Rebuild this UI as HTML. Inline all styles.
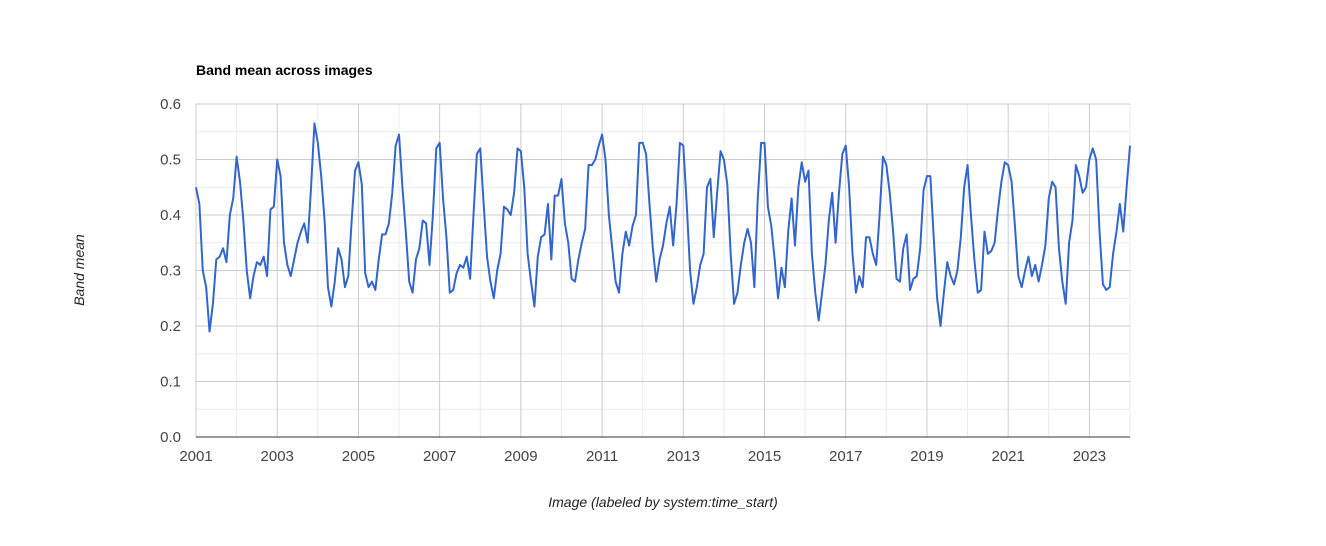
<!DOCTYPE html>
<html><head><meta charset="utf-8"><style>
body{margin:0;background:#fff;font-family:"Liberation Sans",Arial,sans-serif}
</style></head><body>
<svg id="chart" width="1326" height="541" xmlns="http://www.w3.org/2000/svg">
<text x="196" y="75" font-size="14" font-weight="bold" fill="#000">Band mean across images</text>
<g id="grid"></g>
<g id="yticks"></g>
<g id="xticks"></g>
<text transform="translate(84,270) rotate(-90)" text-anchor="middle" font-size="14" font-style="italic" fill="#222">Band mean</text>
<text x="663" y="507" text-anchor="middle" font-size="14" font-style="italic" fill="#222">Image (labeled by system:time_start)</text>
<path id="series" fill="none" stroke="#3366cc" stroke-width="2" stroke-linejoin="round"/>
</svg>
<script>
const startYear = 2001;
const yTickValues = [0,0.1,0.2,0.3,0.4,0.5,0.6];
const yTickLabels = ["0.0","0.1","0.2","0.3","0.4","0.5","0.6"];
const xTickYears = [2001,2003,2005,2007,2009,2011,2013,2015,2017,2019,2021,2023];
const bandMean = [
0.45,0.42,0.30,0.27,0.19,0.24,0.32,0.325,0.34,0.315,0.40,0.43,
0.505,0.46,0.39,0.30,0.25,0.29,0.315,0.31,0.325,0.29,0.41,0.415,
0.50,0.47,0.35,0.31,0.29,0.32,0.35,0.37,0.385,0.35,0.45,0.565,
0.53,0.47,0.39,0.27,0.235,0.28,0.34,0.32,0.27,0.29,0.39,0.48,
0.495,0.455,0.295,0.27,0.28,0.265,0.32,0.365,0.365,0.385,0.44,0.525,
0.545,0.45,0.37,0.28,0.26,0.32,0.34,0.39,0.385,0.31,0.40,0.52,
0.53,0.43,0.36,0.26,0.265,0.295,0.31,0.305,0.325,0.285,0.40,0.51,
0.52,0.42,0.325,0.28,0.25,0.30,0.33,0.415,0.41,0.40,0.44,0.52,
0.515,0.45,0.33,0.28,0.235,0.325,0.36,0.365,0.42,0.32,0.435,0.435,
0.465,0.385,0.35,0.285,0.28,0.32,0.35,0.375,0.49,0.49,0.50,0.525,
0.545,0.50,0.40,0.34,0.28,0.26,0.33,0.37,0.345,0.38,0.40,0.53,
0.53,0.51,0.42,0.34,0.28,0.32,0.345,0.385,0.415,0.345,0.42,0.53,
0.525,0.42,0.30,0.24,0.27,0.31,0.33,0.45,0.465,0.36,0.44,0.515,
0.50,0.455,0.33,0.24,0.26,0.31,0.35,0.375,0.35,0.27,0.43,0.53,
0.53,0.415,0.38,0.32,0.25,0.305,0.27,0.37,0.43,0.345,0.45,0.495,
0.46,0.48,0.33,0.26,0.21,0.26,0.31,0.39,0.44,0.35,0.44,0.51,
0.525,0.45,0.33,0.26,0.29,0.27,0.36,0.36,0.33,0.31,0.40,0.505,
0.49,0.44,0.37,0.285,0.28,0.34,0.365,0.265,0.285,0.29,0.34,0.445,
0.47,0.47,0.36,0.25,0.20,0.26,0.315,0.29,0.275,0.30,0.36,0.45,
0.49,0.40,0.32,0.26,0.265,0.37,0.33,0.335,0.35,0.41,0.46,0.495,
0.49,0.46,0.38,0.29,0.27,0.30,0.325,0.29,0.31,0.28,0.31,0.345,
0.43,0.46,0.45,0.34,0.28,0.24,0.35,0.39,0.49,0.47,0.44,0.45,
0.50,0.52,0.50,0.37,0.275,0.265,0.27,0.33,0.37,0.42,0.37,0.45,
0.525];

const X0=196, X1=1130, Y0=437, Y1=104;
const xMin=2001, xMax=2024, yMin=0, yMax=0.6;
const xs = t => X0 + (t - xMin) / (xMax - xMin) * (X1 - X0);
const ys = v => Y0 - (v - yMin) / (yMax - yMin) * (Y0 - Y1);
const NS="http://www.w3.org/2000/svg";
function mk(tag, attrs, parent){const e=document.createElementNS(NS,tag);for(const k in attrs)e.setAttribute(k,attrs[k]);parent.appendChild(e);return e;}
const grid=document.getElementById('grid');
// minor horizontal
for(let i=0;i<yTickValues.length-1;i++){
  const v=(yTickValues[i]+yTickValues[i+1])/2;
  const l=mk('line',{x1:X0,x2:X1,y1:ys(v),y2:ys(v),stroke:'#ebebeb'},grid);
  
  
}
// vertical lines per year
for(let y=xMin;y<=xMax;y++){
  const major=(y-xMin)%2===0;
  const l=mk('line',{x1:xs(y),x2:xs(y),y1:Y1,y2:Y0,stroke:major?'#cccccc':'#ebebeb'},grid);
  
  
}
const yt=document.getElementById('yticks');
yTickValues.forEach((v,i)=>{
  if(v!==0){
    const l=mk('line',{x1:X0,x2:X1,y1:ys(v),y2:ys(v),stroke:'#cccccc'},grid);
    
    
  }
  const t=mk('text',{x:181,y:ys(v)+5,'text-anchor':'end','font-size':15,fill:'#444'},yt);
  t.textContent=yTickLabels[i];
  
  
});
const base=mk('line',{x1:X0,x2:X1,y1:Y0,y2:Y0,stroke:'#333'},grid);


const xt=document.getElementById('xticks');
xTickYears.forEach(y=>{
  const t=mk('text',{x:xs(y),y:461,'text-anchor':'middle','font-size':15,fill:'#444'},xt);
  t.textContent=String(y);
  
  
});
let d='';
bandMean.forEach((v,i)=>{const t=startYear+i/12;d+=(i?'L':'M')+xs(t).toFixed(2)+' '+ys(v).toFixed(2);});
document.getElementById('series').setAttribute('d',d);
</script>
</body></html>
